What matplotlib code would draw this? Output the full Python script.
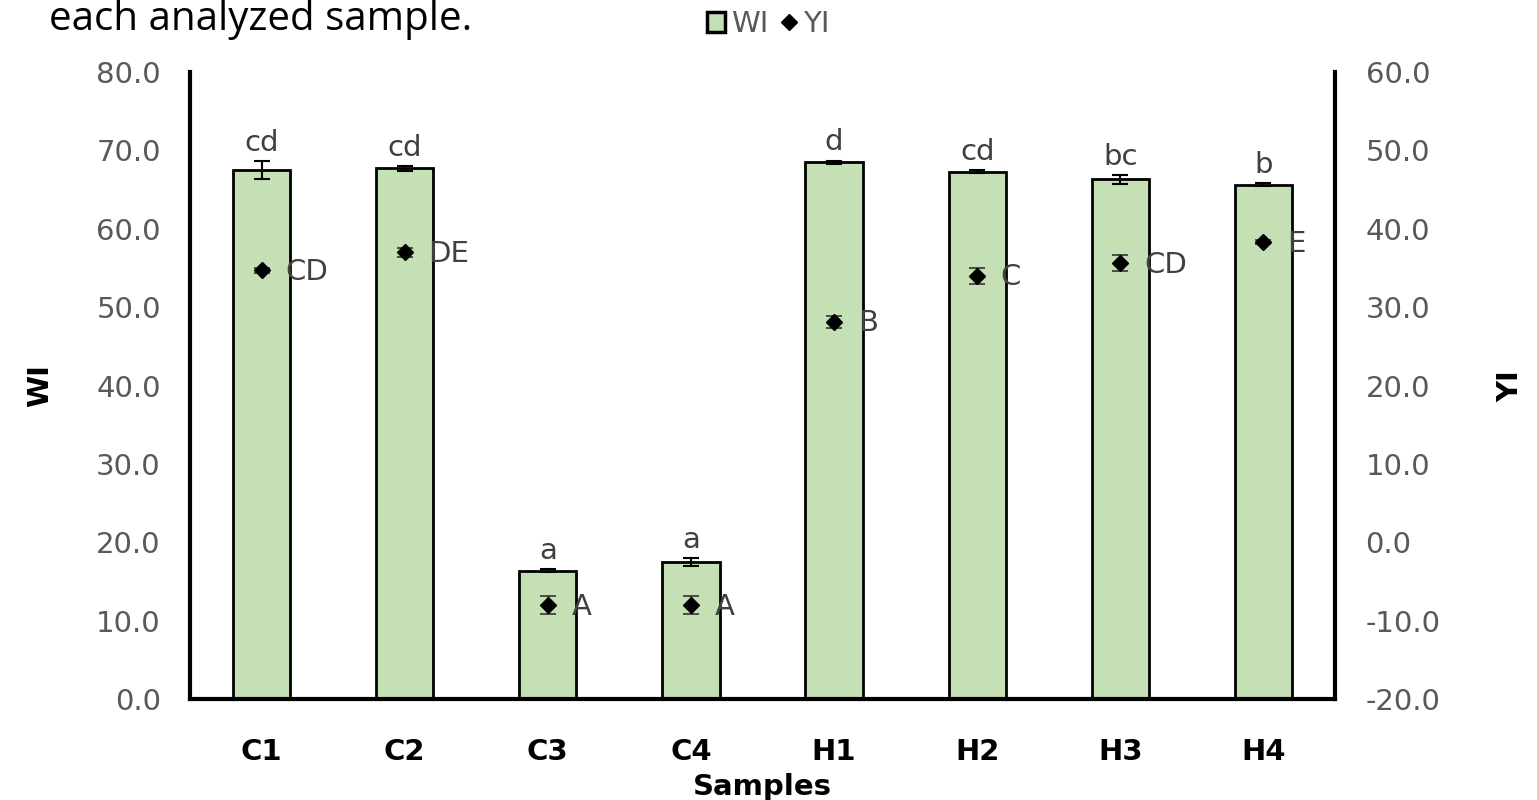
import matplotlib.pyplot as plt
import matplotlib.lines as mlines
import matplotlib.patches as mpatches

plt.rcParams["font.family"] = ["DejaVu Sans"]

# --- data ---
samples = ["C1", "C2", "C3", "C4", "H1", "H2", "H3", "H4"]
wi = [67.5, 67.7, 16.4, 17.5, 68.5, 67.3, 66.3, 65.6]
wi_err = [1.1, 0.3, 0.2, 0.5, 0.2, 0.2, 0.6, 0.2]
wi_letters = ["cd", "cd", "a", "a", "d", "cd", "bc", "b"]
yi = [34.7, 37.0, -8.0, -8.0, 28.1, 34.0, 35.6, 38.3]
yi_err = [0.3, 0.6, 1.1, 1.1, 0.8, 1.0, 1.0, 0.3]
yi_letters = ["CD", "DE", "A", "A", "B", "C", "CD", "E"]

grey = "#595959"
fs = 21

fig = plt.figure(figsize=(15.37, 8), dpi=100)
ax = fig.add_axes([0.1236, 0.126, 0.745, 0.784])
x = list(range(len(samples)))

ax.bar(x, wi, width=0.4, color="#C5E0B4", edgecolor="black", linewidth=2, zorder=2)
ax.errorbar(x, wi, yerr=wi_err, fmt="none", ecolor="black", elinewidth=1.5,
            capsize=6, capthick=1.5, zorder=3)
for xi, v, e, lab in zip(x, wi, wi_err, wi_letters):
    ax.annotate(lab, (xi, v + e), xytext=(0, 3), textcoords="offset points",
                ha="center", va="bottom", fontsize=fs, color="#404040")

ax.set_xlim(-0.5, 7.5)
ax.set_ylim(0, 80)
ax.set_yticks(range(0, 81, 10))
ax.set_yticklabels([f"{v:.1f}" for v in range(0, 81, 10)])
ax.set_xticks(x)
ax.set_xticklabels(samples, fontweight="bold")
ax.tick_params(axis="y", length=0, labelsize=fs, labelcolor=grey, pad=21)
ax.tick_params(axis="x", length=0, labelsize=fs, labelcolor="black", pad=28)
ax.set_ylabel("WI", fontsize=fs, fontweight="bold", labelpad=30)
ax.set_xlabel("Samples", fontsize=fs, fontweight="bold", labelpad=5)
for s in ["top", "right"]:
    ax.spines[s].set_visible(False)
ax.spines["left"].set_linewidth(3)
ax.spines["bottom"].set_linewidth(3)

ax2 = ax.twinx()
ax2.errorbar(x, yi, yerr=yi_err, fmt="D", color="black", markersize=8,
             ecolor="#404040", elinewidth=1.3, capsize=6, capthick=1.3, zorder=4)
for xi, v, lab in zip(x, yi, yi_letters):
    ax2.annotate(lab, (xi, v), xytext=(17, -1), textcoords="offset points",
                 ha="left", va="center", fontsize=fs, color="#404040")
ax2.set_ylim(-20, 60)
ax2.set_yticks(range(-20, 61, 10))
ax2.set_yticklabels([f"{v:.1f}" for v in range(-20, 61, 10)])
ax2.tick_params(axis="y", length=0, labelsize=fs, labelcolor=grey, pad=22)
ax2.set_ylabel("YI", fontsize=fs, fontweight="bold", labelpad=40)
for s in ["top", "left", "bottom"]:
    ax2.spines[s].set_visible(False)
ax2.spines["right"].set_linewidth(3)

# legend at the top
h1 = mpatches.Patch(facecolor="#C5E0B4", edgecolor="black", linewidth=2.5, label="WI")
h2 = mlines.Line2D([], [], marker="D", color="black", linestyle="none", markersize=8, label="YI")
leg = fig.legend(handles=[h1, h2], loc="center", bbox_to_anchor=(0.5, 0.97), ncol=2,
                 frameon=False, fontsize=fs, handlelength=0.6, handleheight=0.7,
                 handletextpad=0.2, columnspacing=0.4)
for t in leg.get_texts():
    t.set_color(grey)

# caption from the page above
fig.text(0.032, 0.962, "each analyzed sample.", fontsize=29, color="black",
         ha="left", va="baseline", family="Open Sans")

fig.savefig("out.png", dpi=100)
